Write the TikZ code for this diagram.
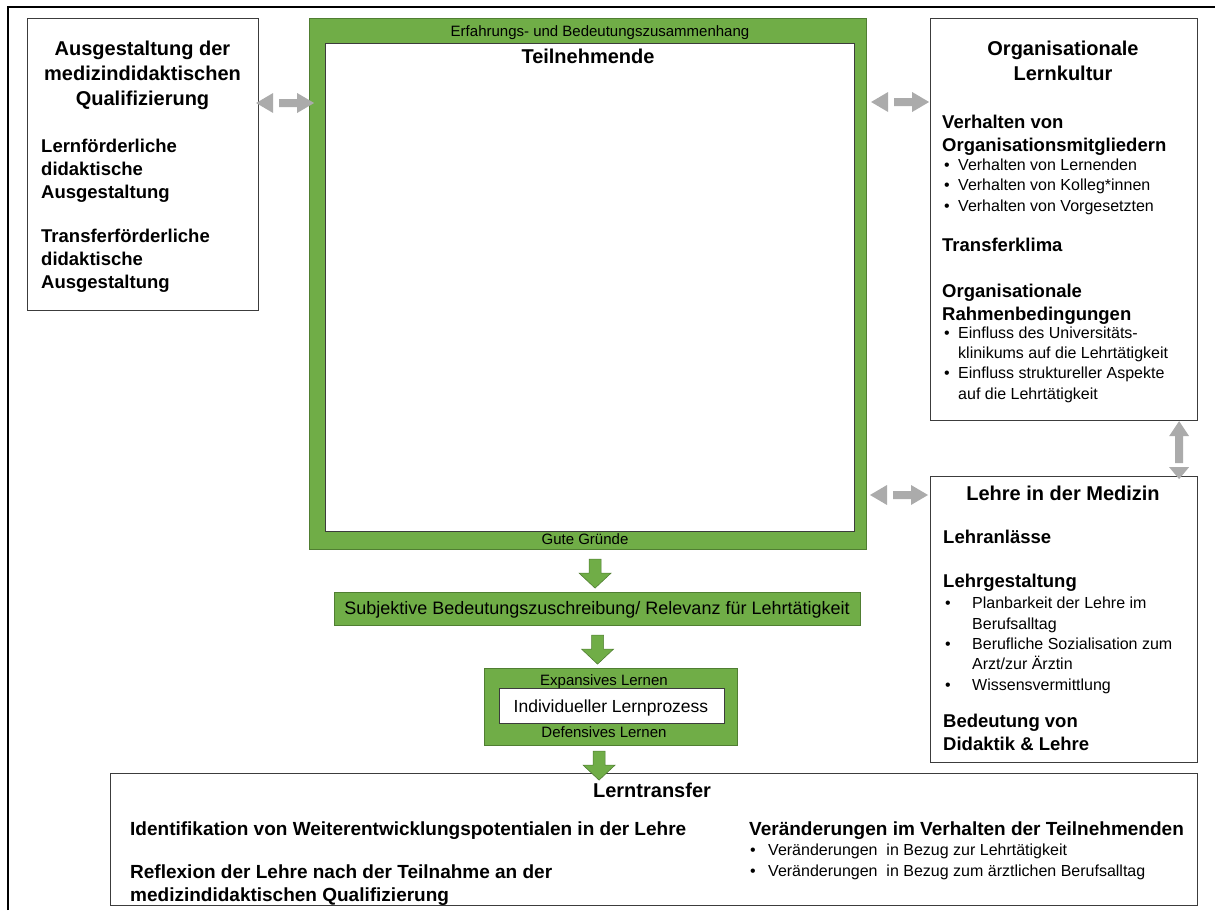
\documentclass[tikz,border=0pt]{standalone}
\usepackage{fontspec}
\setmainfont{Liberation Sans}
\usetikzlibrary{calc}

\definecolor{grn}{HTML}{70AD47}
\definecolor{grnline}{HTML}{507E32}
\definecolor{agray}{HTML}{ABABAB}
\definecolor{boxline}{HTML}{3C3C3C}

% font sizes (1 unit = 1pt)
\newcommand\fTitle{\fontsize{20}{25}\selectfont\bfseries}
\newcommand\fHead{\fontsize{18.5}{23}\selectfont\bfseries}
\newcommand\fHeadB{\fontsize{19}{23}\selectfont\bfseries}
\newcommand\fItem{\fontsize{16}{20.3}\selectfont}
\newcommand\fMid{\fontsize{17.5}{21}\selectfont}
\newcommand\fRel{\fontsize{18}{21}\selectfont}
\newcommand\fSmall{\fontsize{15}{17}\selectfont}

% bullet item with a fixed indent, and a continuation line
\newcommand\bitem[2][14pt]{\makebox[#1][l]{\textbullet}#2}
\newcommand\bcont[2][14pt]{\hspace*{#1}#2}

% multi-line text nodes sit on the baseline of their last line
\tikzset{
  plainbox/.style={draw=boxline, line width=1.1pt, fill=white, anchor=north west, inner sep=0pt},
  greenbox/.style={draw=grnline, line width=1.1pt, fill=grn, anchor=north west, inner sep=0pt},
  ltxt/.style={anchor=base west, inner sep=0pt, align=left},
  ctxt/.style={anchor=base, inner sep=0pt, align=center},
  lrarrow/.pic={
    \fill[agray] (0,0) -- (17,-10) -- (17,10) -- cycle;
    \fill[agray] (23,-4) -- (41,-4) -- (41,-10) -- (58,0) -- (41,10) -- (41,4) -- (23,4) -- cycle;
  },
  udarrow/.pic={
    \fill[agray] (0,0) -- (10,15) -- (4,15) -- (4,42) -- (-4,42) -- (-4,15) -- (-10,15) -- cycle;
    \fill[agray] (-10,46) -- (10,46) -- (0,58) -- cycle;
  },
  downarrow/.pic={
    \filldraw[fill=grn, draw=grnline, line width=0.6pt]
      (-6,0) -- (6,0) -- (6,14) -- (16,14) -- (0,29) -- (-16,14) -- (-6,14) -- cycle;
  }
}

\begin{document}
\begin{tikzpicture}[x=1pt,y=-1pt]
\useasboundingbox (0,0) rectangle (1215,910);

% frame around the whole figure, open to the right and bottom
\draw[line width=2pt, black] (8,910) -- (8,7) -- (1215,7);

% ---- qualification box (left) ----
\node[plainbox, minimum width=231, minimum height=292] (lq) at (27,18) {};
\node[ctxt, font=\fTitle] (lqT) at (142.5,105) {Ausgestaltung der\\medizindidaktischen\\Qualifizierung};
\node[ltxt, font=\fHead] (lqA) at (41,198) {Lernförderliche\\didaktische\\Ausgestaltung};
\node[ltxt, font=\fHead] (lqB) at (41,288) {Transferförderliche\\didaktische\\Ausgestaltung};

% ---- participants (green frame) ----
\node[greenbox, minimum width=557, minimum height=531] (frame) at (309,18) {};
\node[plainbox, minimum width=529, minimum height=488] (tn) at (325,43) {};
\node[ctxt, font=\fSmall] (ctx) at (600,36) {Erfahrungs- und Bedeutungszusammenhang};
\node[ctxt, font=\fTitle] (tnT) at (588,63) {Teilnehmende};
\node[ctxt, font=\fSmall] (gg) at (585,544) {Gute Gründe};

% ---- organisational learning culture ----
\node[plainbox, minimum width=267, minimum height=402] (org) at (930,18) {};
\node[ctxt, font=\fTitle] (orgT) at (1063,80) {Organisationale\\Lernkultur};
\node[ltxt, font=\fHead] (orgA) at (942,151) {Verhalten von\\Organisationsmitgliedern};
\node[ltxt, font=\fItem] (orgAi) at (944,211) {\bitem{Verhalten von Lernenden}\\\bitem{Verhalten von Kolleg*innen}\\\bitem{Verhalten von Vorgesetzten}};
\node[ltxt, font=\fHead] (orgB) at (942,251) {Transferklima};
\node[ltxt, font=\fHead] (orgC) at (942,320) {Organisationale\\Rahmenbedingungen};
\node[ltxt, font=\fItem] (orgCi) at (944,399) {\bitem{Einfluss des Universitäts-}\\\bcont{klinikums auf die Lehrtätigkeit}\\\bitem{Einfluss struktureller Aspekte}\\\bcont{auf die Lehrtätigkeit}};

% ---- teaching in medicine ----
\node[plainbox, minimum width=267, minimum height=286] (lm) at (930,476) {};
\node[ctxt, font=\fTitle] (lmT) at (1063,500) {Lehre in der Medizin};
\node[ltxt, font=\fHead] (lmA) at (943,543) {Lehranlässe};
\node[ltxt, font=\fHead] (lmB) at (943,587) {Lehrgestaltung};
\node[ltxt, font=\fItem] (lmBi) at (945,690) {\bitem[27pt]{Planbarkeit der Lehre im}\\\bcont[27pt]{Berufsalltag}\\\bitem[27pt]{Berufliche Sozialisation zum}\\\bcont[27pt]{Arzt/zur Ärztin}\\\bitem[27pt]{Wissensvermittlung}};
\node[ltxt, font=\fHead] (lmC) at (943,750) {Bedeutung von\\Didaktik \& Lehre};

% ---- relevance and learning process ----
\node[greenbox, minimum width=526, minimum height=33] (rel) at (334,592) {};
\node[ctxt, font=\fRel] (relT) at (597,614) {Subjektive Bedeutungszuschreibung/ Relevanz für Lehrtätigkeit};
\node[greenbox, minimum width=253, minimum height=77] (lp) at (484,668) {};
\node[plainbox, minimum width=225, minimum height=35] (lpi) at (499,688) {};
\node[ctxt, font=\fSmall] (lpE) at (604,685) {Expansives Lernen};
\node[ctxt, font=\fMid] (lpT) at (611,712) {Individueller Lernprozess};
\node[ctxt, font=\fSmall] (lpD) at (604,737) {Defensives Lernen};

% ---- learning transfer ----
\node[plainbox, minimum width=1087, minimum height=132] (lt) at (110,773) {};
\node[ctxt, font=\fTitle] (ltT) at (652,797) {Lerntransfer};
\node[ltxt, font=\fHeadB] (ltA) at (130,835) {Identifikation von Weiterentwicklungspotentialen in der Lehre};
\node[ltxt, font=\fHeadB] (ltB) at (130,901) {Reflexion der Lehre nach der Teilnahme an der\\medizindidaktischen Qualifizierung};
\node[ltxt, font=\fHeadB] (ltC) at (749,835) {Veränderungen im Verhalten der Teilnehmenden};
\node[ltxt, font=\fItem] (ltCi) at (750,876) {\bitem[18pt]{Veränderungen\ \ in Bezug zur Lehrtätigkeit}\\\bitem[18pt]{Veränderungen\ \ in Bezug zum ärztlichen Berufsalltag}};

% ---- grey two-way arrows ----
\pic at ($(lq.north east)+(-3,85)$) {lrarrow};
\pic at ($(frame.north east)+(4,84)$) {lrarrow};
\pic at ($(lm.north west)+(-60,19)$) {lrarrow};
\pic at ($(org.south east)+(-19,0)$) {udarrow};

% ---- green flow arrows ----
\pic at ($(frame.south)+(7,9)$) {downarrow};
\pic at ($(rel.south)+(0,9)$) {downarrow};
\pic at ($(lp.south)+(-12,5)$) {downarrow};
\end{tikzpicture}
\end{document}
